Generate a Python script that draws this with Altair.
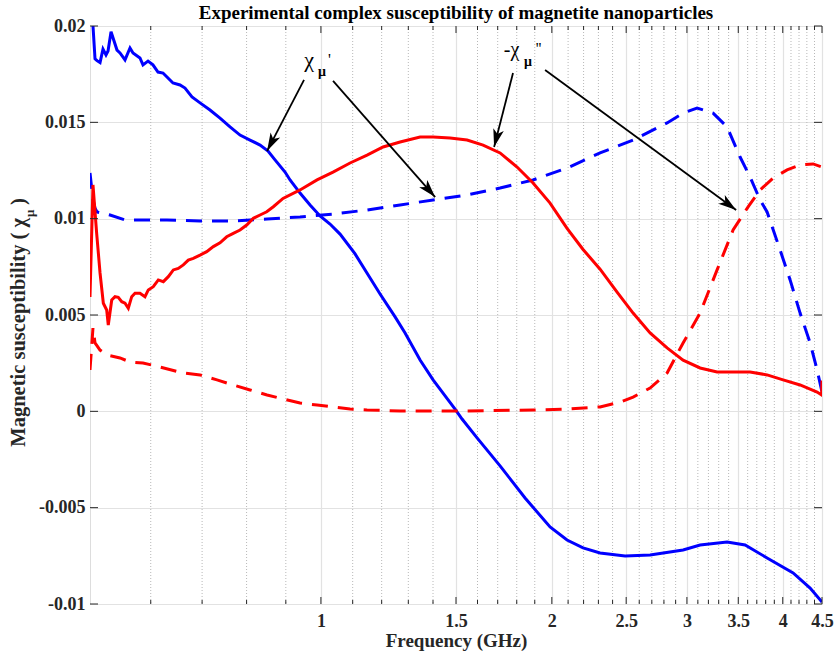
import math
import altair as alt
import pandas as pd

# ---------------- data (frequency in GHz, susceptibility) ----------------
# chi' of sample 1 (blue solid)
bs_freq = [0.500, 0.5076, 0.5106, 0.5153, 0.5199, 0.5246, 0.5278, 0.5326, 0.5422, 0.5471,
           0.5554, 0.5638, 0.5689, 0.5809, 0.5862, 0.5951, 0.6040, 0.6132, 0.6225, 0.6319,
           0.6414, 0.6551, 0.6650, 0.6791, 0.6957, 0.7168, 0.7387, 0.7612, 0.7844, 0.8083,
           0.8330, 0.8532, 0.8713, 0.8979, 0.9115, 0.9392, 0.9679, 0.9973, 1.0277, 1.0591,
           1.1080, 1.1590, 1.1943, 1.2494, 1.2874, 1.3467, 1.4003, 1.4958, 1.5275, 1.5979,
           1.7121, 1.8456, 1.9893, 2.0935, 2.1965, 2.3116, 2.4918, 2.6860, 2.9657, 3.1210,
           3.3845, 3.5723, 3.8164, 4.1261, 4.3421, 4.5000]
bs_val = [0.0225, 0.0183, 0.0182, 0.0181, 0.0188, 0.0185, 0.0187, 0.0197, 0.01875, 0.0186,
          0.01824, 0.01886, 0.0186, 0.01834, 0.01798, 0.01818, 0.01798, 0.01761, 0.01756, 0.0173,
          0.01704, 0.01694, 0.01678, 0.01632, 0.01601, 0.01564, 0.01522, 0.01476, 0.01434, 0.01408,
          0.01382, 0.01351, 0.01305, 0.01242, 0.01201, 0.01133, 0.01071, 0.01014, 0.00972, 0.0092,
          0.00817, 0.00692, 0.00609, 0.0049, 0.00407, 0.00266, 0.00163, 0.00012, -0.0004, -0.00138,
          -0.00283, -0.0045, -0.006, -0.00668, -0.00709, -0.00735, -0.00751, -0.00746, -0.0072, -0.00694,
          -0.00678, -0.00694, -0.00761, -0.00839, -0.00917, -0.0099]

# chi' of sample 2 (red solid)
rs_freq = [0.500, 0.5045, 0.5101, 0.5153, 0.5204, 0.5257, 0.5282, 0.5337, 0.5390, 0.5443,
           0.5500, 0.5554, 0.5609, 0.5667, 0.5723, 0.5809, 0.5897, 0.5956, 0.6046, 0.6138,
           0.6231, 0.6325, 0.6421, 0.6517, 0.6616, 0.6716, 0.6818, 0.6957, 0.7098, 0.7240,
           0.7387, 0.7537, 0.7687, 0.7844, 0.8003, 0.8164, 0.8330, 0.8499, 0.8669, 0.8925,
           0.9392, 0.9884, 1.0370, 1.0914, 1.1486, 1.2051, 1.2683, 1.3467, 1.4003, 1.4736,
           1.5506, 1.6270, 1.7121, 1.8017, 1.8904, 1.9893, 2.0935, 2.1965, 2.3116, 2.4327,
           2.5524, 2.6860, 2.8266, 2.9657, 3.1210, 3.2843, 3.4460, 3.6264, 3.8164, 4.0041,
           4.2137, 4.4343, 4.4950, 4.5000]
rs_val = [0.00593, 0.01175, 0.00924, 0.00718, 0.00561, 0.00526, 0.00448, 0.00578, 0.00595, 0.00592,
          0.00569, 0.00561, 0.00535, 0.00595, 0.00613, 0.00613, 0.00595, 0.0063, 0.00647, 0.00682,
          0.00673, 0.00699, 0.00734, 0.00742, 0.0076, 0.00785, 0.00794, 0.00811, 0.00829, 0.00855,
          0.00875, 0.00906, 0.00924, 0.00941, 0.00967, 0.01002, 0.01019, 0.01036, 0.01062, 0.01105,
          0.01149, 0.01201, 0.01242, 0.01289, 0.0133, 0.01372, 0.01398, 0.01424, 0.01424, 0.01419,
          0.01408, 0.01382, 0.01341, 0.01268, 0.01185, 0.01081, 0.00950, 0.00840, 0.00738, 0.00619,
          0.0051, 0.00407, 0.00329, 0.00266, 0.00225, 0.00204, 0.00204, 0.00204, 0.00189, 0.00163,
          0.00137, 0.001, 0.00085, 0.0016]

# -chi'' of sample 1 (blue dashed)
bd_freq = [0.500, 0.5045, 0.5076, 0.5106, 0.5310, 0.5554, 0.5862, 0.6300, 0.6957, 0.7680,
           0.8507, 0.9392, 1.0370, 1.1486, 1.2683, 1.4003, 1.5506, 1.7121, 1.8904, 2.0935,
           2.3116, 2.5524, 2.8266, 2.9657, 3.0930, 3.2452, 3.3845, 3.5192, 3.6264, 3.7369,
           3.8164, 3.9683, 4.0892, 4.2137, 4.3421, 4.4343, 4.5000]
bd_val = [0.01237, 0.01097, 0.01055, 0.01035, 0.01019, 0.00993, 0.00993, 0.00993, 0.00988, 0.00988,
          0.00998, 0.01009, 0.01024, 0.01045, 0.01071, 0.01097, 0.01123, 0.01159, 0.01201, 0.01263,
          0.01341, 0.01408, 0.01497, 0.01548, 0.01574, 0.01548, 0.01476, 0.0132, 0.01216, 0.01097,
          0.01035, 0.00837, 0.00682, 0.0051, 0.00355, 0.00215, 0.001]

# -chi'' of sample 2 (red dashed)
rd_freq = [0.500, 0.5045, 0.5076, 0.5153, 0.5262, 0.5471, 0.5638, 0.5862, 0.6169, 0.6610,
           0.6957, 0.7320, 0.7680, 0.8083, 0.8507, 0.8925, 0.9392, 0.9884, 1.0370, 1.0914,
           1.1486, 1.2683, 1.5506, 1.8904, 2.0935, 2.3116, 2.4546, 2.5524, 2.6860, 2.8266,
           2.9657, 3.1210, 3.2843, 3.4460, 3.6047, 3.7369, 3.8857, 4.0525, 4.2137, 4.3814,
           4.5000]
rd_val = [0.00215, 0.00433, 0.00355, 0.00318, 0.00292, 0.00277, 0.00256, 0.00251, 0.0023, 0.00199,
          0.00189, 0.00163, 0.00137, 0.00111, 0.00085, 0.00064, 0.00043, 0.00033, 0.00023, 0.00012,
          0.00007, 0.00002, 0.00002, 0.00007, 0.00012, 0.00023, 0.00048, 0.00074, 0.00121, 0.00199,
          0.00355, 0.0051, 0.00734, 0.00941, 0.01061, 0.01149, 0.01211, 0.01253, 0.01279, 0.01284,
          0.01268]

x_major = [1, 1.5, 2, 2.5, 3, 3.5, 4, 4.5]
x_minor = [0.6, 0.7, 0.8, 0.9, 1.1, 1.2, 1.3, 1.4, 1.6, 1.7, 1.8, 1.9, 2.1, 2.2, 2.3, 2.4,
           2.6, 2.7, 2.8, 2.9, 3.1, 3.2, 3.3, 3.4, 3.6, 3.7, 3.8, 3.9, 4.1, 4.2, 4.3, 4.4]
y_major = [-0.01, -0.005, 0, 0.005, 0.01, 0.015, 0.02]

title_text = "Experimental complex susceptibility of magnetite nanoparticles"
x_title = "Frequency (GHz)"

# annotation arrows (tail -> tip, data coordinates)
arrow_tail_f = [0.9506, 1.0370, 1.7800, 1.9598]
arrow_tail_v = [0.0172, 0.01715, 0.01756, 0.01772]
arrow_tip_f = [0.8507, 1.4089, 1.6817, 3.4775]
arrow_tip_v = [0.01351, 0.01112, 0.01372, 0.01045]

# ---------------- layout ----------------
W, H = 732, 578
F_MIN, F_MAX = 0.5, 4.5
V_MIN, V_MAX = -0.01, 0.02
FONT = "Liberation Serif"
DARK = "#262626"
BLUE = "#0000ff"
RED = "#ff0000"

xscale = alt.Scale(type="log", domain=[F_MIN, F_MAX], nice=False)
yscale = alt.Scale(domain=[V_MIN, V_MAX], nice=False, zero=False)

x_axis = alt.Axis(values=x_major, format="~g", grid=True, gridColor="#e2e2e2", gridWidth=1.2,
                  ticks=False, tickSize=0, domain=False, labelFont=FONT, labelFontSize=18,
                  labelFontWeight="bold", labelColor=DARK, labelPadding=8, labelFlush=False,
                  labelOverlap=False, title=x_title, titleFont=FONT, titleFontSize=19,
                  titleFontWeight="bold", titleColor=DARK, titlePadding=1)
y_axis = alt.Axis(values=y_major,
                  labelExpr="datum.value < 0 ? '-' + format(-datum.value, '~g') : format(datum.value, '~g')",
                  grid=True, gridColor="#e2e2e2", gridWidth=1.2, ticks=False, tickSize=0,
                  domain=False, labelFont=FONT, labelFontSize=18, labelFontWeight="bold",
                  labelColor=DARK, labelPadding=5, labelFlush=False, labelOverlap=False, title="")


def X():
    return alt.X("f:Q", scale=xscale, axis=x_axis)


def Y():
    return alt.Y("v:Q", scale=yscale, axis=y_axis)


layers = []

# minor dotted grid
layers.append(alt.Chart(pd.DataFrame({"f": x_minor})).mark_rule(
    color="#b8b8b8", strokeWidth=1, strokeDash=[1, 2]).encode(x=X()))


def curve(freq, val, color, dashed):
    df = pd.DataFrame({"f": freq, "v": val})
    kw = dict(color=color, strokeWidth=3, clip=True)
    if dashed:
        kw["strokeDash"] = [16, 10]
    return alt.Chart(df).mark_line(**kw).encode(x=X(), y=Y())


layers.append(curve(bs_freq, bs_val, BLUE, False))
layers.append(curve(bd_freq, bd_val, BLUE, True))
layers.append(curve(rs_freq, rs_val, RED, False))
layers.append(curve(rd_freq, rd_val, RED, True))

# ticks (inside, on all four sides)
xmaj = pd.DataFrame({"f": x_major})
xmin = pd.DataFrame({"f": x_minor})
ymaj = pd.DataFrame({"v": y_major})
tk = dict(color=DARK, strokeWidth=1)
layers.append(alt.Chart(xmaj).mark_rule(**tk).encode(x=X(), y=alt.value(H), y2=alt.value(H - 7)))
layers.append(alt.Chart(xmaj).mark_rule(**tk).encode(x=X(), y=alt.value(0), y2=alt.value(7)))
layers.append(alt.Chart(xmin).mark_rule(**tk).encode(x=X(), y=alt.value(H), y2=alt.value(H - 4)))
layers.append(alt.Chart(xmin).mark_rule(**tk).encode(x=X(), y=alt.value(0), y2=alt.value(4)))
layers.append(alt.Chart(ymaj).mark_rule(**tk).encode(y=Y(), x=alt.value(0), x2=alt.value(8)))
layers.append(alt.Chart(ymaj).mark_rule(**tk).encode(y=Y(), x=alt.value(W), x2=alt.value(W - 8)))


# arrows
def px(f):
    return W * math.log(f / F_MIN) / math.log(F_MAX / F_MIN)


def py(v):
    return H * (V_MAX - v) / (V_MAX - V_MIN)


angles = []
for tf, tv, hf, hv in zip(arrow_tail_f, arrow_tail_v, arrow_tip_f, arrow_tip_v):
    dx = px(hf) - px(tf)
    dy = py(hv) - py(tv)
    angles.append(math.degrees(math.atan2(dx, -dy)) % 360)

arrows = pd.DataFrame({"f": arrow_tail_f, "v": arrow_tail_v, "f2": arrow_tip_f, "v2": arrow_tip_v})
layers.append(alt.Chart(arrows).mark_rule(color="black", strokeWidth=1.8).encode(
    x=X(), y=Y(), x2="f2:Q", y2="v2:Q"))
heads = pd.DataFrame({"f": arrow_tip_f, "v": arrow_tip_v, "ang": angles})
ARROW = "M0,0 L0.6,2 L0,1.5 L-0.6,2 Z"
layers.append(alt.Chart(heads).mark_point(shape=ARROW, size=324, filled=True, color="black",
                                          opacity=1, strokeWidth=0).encode(
    x=X(), y=Y(), angle=alt.Angle("ang:Q", scale=None)))


def label(text, f, v, size, bold=False, align="center"):
    df = pd.DataFrame({"t": [text], "f": [f], "v": [v]})
    kw = dict(font=FONT, fontSize=size, align=align, baseline="alphabetic", color="black")
    if bold:
        kw["fontWeight"] = "bold"
    return alt.Chart(df).mark_text(**kw).encode(x=X(), y=Y(), text="t:N")


layers.append(label("χ", 0.9649, 0.01785, 22))
layers.append(label("μ", 1.0035, 0.01742, 14, bold=True))
layers.append(label("'", 1.0262, 0.01798, 16))
layers.append(label("-χ", 1.7722, 0.01846, 20))
layers.append(label("μ", 1.8620, 0.01790, 14, bold=True))
layers.append(label("''", 1.9217, 0.01855, 16))


# y-axis title with subscript
def ytitle(text, xv, yv, size, align):
    df = pd.DataFrame({"t": [text]})
    return alt.Chart(df).mark_text(font=FONT, fontSize=size, fontWeight="bold", color=DARK,
                                   angle=270, align=align, baseline="alphabetic").encode(
        text="t:N", x=alt.value(xv), y=alt.value(yv))


layers.append(ytitle("Magnetic susceptibility ( χ", -65, 192, 20.5, "right"))
layers.append(ytitle("μ", -56, 191, 13, "left"))
layers.append(ytitle(")", -65, 179, 20.5, "left"))

chart = alt.layer(*layers).properties(
    width=W, height=H,
    title=alt.TitleParams(text=title_text, font=FONT, fontSize=19, fontWeight="bold",
                          color="black", anchor="middle", offset=4, dy=10),
    autosize=alt.AutoSizeParams(type="none"),
    padding={"left": 90, "top": 26, "right": 14, "bottom": 54},
).configure_view(stroke=DARK, strokeWidth=1.5).configure(background="white")

chart.save("out.html", embed_options={"renderer": "svg", "actions": False})
